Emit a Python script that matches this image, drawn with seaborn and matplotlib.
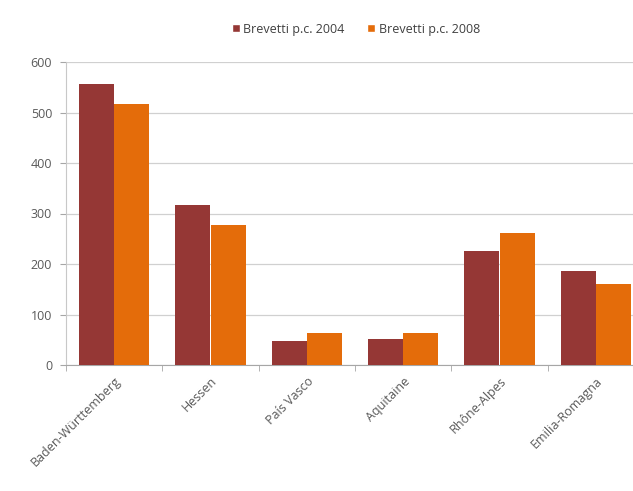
import pandas as pd
import seaborn as sns
import matplotlib.pyplot as plt
from matplotlib.patches import Patch

regions = ["Baden-Württemberg", "Hessen", "País Vasco", "Aquitaine", "Rhône-Alpes", "Emilia-Romagna"]
brevetti_2004 = [557, 316, 48, 51, 226, 187]
brevetti_2008 = [516, 277, 64, 64, 262, 161]
series = ["Brevetti p.c. 2004", "Brevetti p.c. 2008"]
colors = ["#953735", "#E46C0A"]

df = pd.DataFrame({
    "region": regions * 2,
    "serie": [series[0]] * len(regions) + [series[1]] * len(regions),
    "valore": brevetti_2004 + brevetti_2008,
})

sns.set_style("white")
plt.rcParams["font.family"] = ["Open Sans", "DejaVu Sans"]

fig = plt.figure(figsize=(6.33, 4.91), dpi=100)
ax = fig.add_axes([66 / 633, 1 - 365 / 491, 578 / 633, 303 / 491])

sns.barplot(data=df, x="region", y="valore", hue="serie", palette=colors,
            width=0.73, saturation=1, linewidth=0, ax=ax, legend=False, zorder=3)

ax.set_ylim(0, 600)
ax.set_xlim(-0.5, len(regions) - 0.5)
ax.set_yticks(range(0, 601, 100))
ax.yaxis.grid(True, color="#d0d0d0", linewidth=0.9, zorder=0)
ax.set_xlabel("")
ax.set_ylabel("")

for s in ["top", "right"]:
    ax.spines[s].set_visible(False)
ax.spines["left"].set_color("#c8c8c8")
ax.spines["bottom"].set_color("#a6a6a6")

ax.tick_params(axis="y", left=True, length=4, color="#a6a6a6", labelsize=9, labelcolor="#595959", pad=6)
ax.tick_params(axis="x", which="major", bottom=False, labelsize=9, labelcolor="#595959")
ax.set_xticks([i + 0.5 for i in range(-1, len(regions))], minor=True)
ax.tick_params(axis="x", which="minor", bottom=True, length=4, color="#a6a6a6")
plt.setp(ax.get_xticklabels(), rotation=45, ha="right", rotation_mode="anchor")

handles = [Patch(facecolor=c, label=l) for c, l in zip(colors, series)]
fig.legend(handles=handles, loc="center", bbox_to_anchor=(356 / 633, 1 - 29 / 491),
           ncol=2, frameon=False, fontsize=9, handlelength=0.6, handleheight=0.6,
           handletextpad=0.3, columnspacing=1.8, labelcolor="#404040")

fig.savefig("out.png", dpi=100)
